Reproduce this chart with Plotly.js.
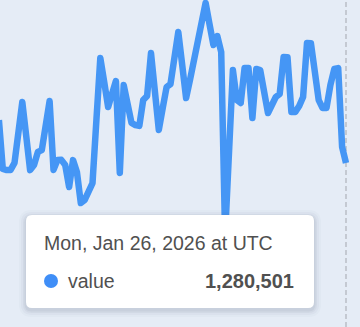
<!DOCTYPE html>
<html>
<head>
<meta charset="utf-8">
<script src="https://cdn.plot.ly/plotly-3.0.1.min.js"></script>
<style>
  html, body { margin: 0; padding: 0; background: #E5ECF6; }
  #chart { width: 360px; height: 327px; }
  #chart path.js-line { stroke-linejoin: round !important; }
</style>
</head>
<body>
<div id="chart"></div>
<script>
// ---- data ----
const seriesName = "value";
const firstDate = "2025-10-29";
const lastDate = "2026-01-26";
const values = [
  1495200, 1250900, 1245300, 1246100, 1280700, 1435800, 1585400, 1415600, 1244800, 1270300,
  1335900, 1345200, 1470800, 1590100, 1245900, 1295400, 1296200, 1270700, 1160300, 1294800,
  1235600, 1080200, 1095900, 1135100, 1180400, 1495700, 1805300, 1685800, 1560200, 1625900,
  1690400, 1230700, 1670300, 1575600, 1480800, 1470200, 1465900, 1595300, 1615700, 1830100,
  1635400, 1445800, 1555200, 1660600, 1675300, 1805900, 1935200, 1770700, 1605300, 1695800,
  1785100, 1880600, 1980300, 2080900, 1975200, 1870700, 1915400, 1835800, 920300, 1345600,
  1745200, 1595900, 1580400, 1755700, 1754900, 1505300, 1750800, 1745100, 1635700, 1530200,
  1570600, 1610300, 1625800, 1810200, 1809700, 1535400, 1535900, 1565200, 1610700, 1880300,
  1879600, 1745800, 1595100, 1555400, 1556000, 1670200, 1750600, 1755300, 1360800, 1280501
];
const tooltipDate = "Mon, Jan 26, 2026 at UTC";
const tooltipValue = "1,280,501";

// ---- build x dates (one per day) ----
const DAY = 86400000;
const t0 = Date.parse(firstDate + "T00:00:00Z");
const dates = values.map((_, i) => new Date(t0 + i * DAY).toISOString().slice(0, 10));

const W = 360, H = 327;
const px = x => x / W;           // pixel -> paper x
const py = y => 1 - y / H;       // pixel -> paper y

function roundRect(x0, y0, x1, y1, r) {
  return `M ${px(x0 + r)} ${py(y0)} L ${px(x1 - r)} ${py(y0)} Q ${px(x1)} ${py(y0)} ${px(x1)} ${py(y0 + r)} ` +
         `L ${px(x1)} ${py(y1 - r)} Q ${px(x1)} ${py(y1)} ${px(x1 - r)} ${py(y1)} ` +
         `L ${px(x0 + r)} ${py(y1)} Q ${px(x0)} ${py(y1)} ${px(x0)} ${py(y1 - r)} ` +
         `L ${px(x0)} ${py(y0 + r)} Q ${px(x0)} ${py(y0)} ${px(x0 + r)} ${py(y0)} Z`;
}

const tt = { x0: 26, y0: 215, x1: 314, y1: 308 };
const shapes = [
  { type: "line", xref: "x", yref: "paper", x0: lastDate, x1: lastDate, y0: 0, y1: 1,
    line: { color: "#b9bdc6", width: 1.5, dash: "5px,3px" }, layer: "below" }
];
// soft shadow
[[7, 0.025], [5, 0.035], [3, 0.05], [1.5, 0.06]].forEach(([s, a]) => {
  shapes.push({ type: "path", xref: "paper", yref: "paper",
    path: roundRect(tt.x0 - s, tt.y0 - s + 2, tt.x1 + s, tt.y1 + s + 2, 6 + s),
    fillcolor: `rgba(60,70,100,${a})`, line: { width: 0 }, layer: "above" });
});
shapes.push({ type: "path", xref: "paper", yref: "paper",
  path: roundRect(tt.x0, tt.y0, tt.x1, tt.y1, 6),
  fillcolor: "#ffffff", line: { width: 0 }, layer: "above" });
shapes.push({ type: "circle", xref: "paper", yref: "paper",
  x0: px(44), x1: px(58), y0: py(274), y1: py(288),
  fillcolor: "#3f8ef7", line: { width: 0 }, layer: "above" });

const font = "Liberation Sans, Arial, Helvetica, sans-serif";
const annotations = [
  { xref: "paper", yref: "paper", x: px(42), y: py(243), xanchor: "left", yanchor: "middle",
    text: tooltipDate, showarrow: false, font: { family: font, size: 19.5, color: "#505050" } },
  { xref: "paper", yref: "paper", x: px(66), y: py(281), xanchor: "left", yanchor: "middle",
    text: seriesName, showarrow: false, font: { family: font, size: 19.5, color: "#505050" } },
  { xref: "paper", yref: "paper", x: px(296), y: py(281), xanchor: "right", yanchor: "middle",
    text: "<b>" + tooltipValue + "</b>", showarrow: false, font: { family: font, size: 20, color: "#505050" } }
];

const xStart = new Date(t0 + 0.28 * DAY).toISOString();
const xEnd = new Date(Date.parse(lastDate + "T00:00:00Z") + 3.59 * DAY).toISOString();

const trace = {
  x: dates, y: values, type: "scatter", mode: "lines", name: seriesName,
  line: { color: "#4596f5", width: 6.5 }, hoverinfo: "skip"
};

const layout = {
  width: W, height: H,
  margin: { l: 0, r: 0, t: 0, b: 0, pad: 0 },
  paper_bgcolor: "#E5ECF6", plot_bgcolor: "#E5ECF6",
  showlegend: false,
  xaxis: { type: "date", range: [xStart, xEnd], showgrid: false, zeroline: false,
           showline: false, showticklabels: false, ticks: "" },
  yaxis: { range: [460500, 2095500], showgrid: false, zeroline: false,
           showline: false, showticklabels: false, ticks: "" },
  shapes: shapes,
  annotations: annotations
};

Plotly.newPlot("chart", [trace], layout, { displayModeBar: false, staticPlot: true });
</script>
</body>
</html>
